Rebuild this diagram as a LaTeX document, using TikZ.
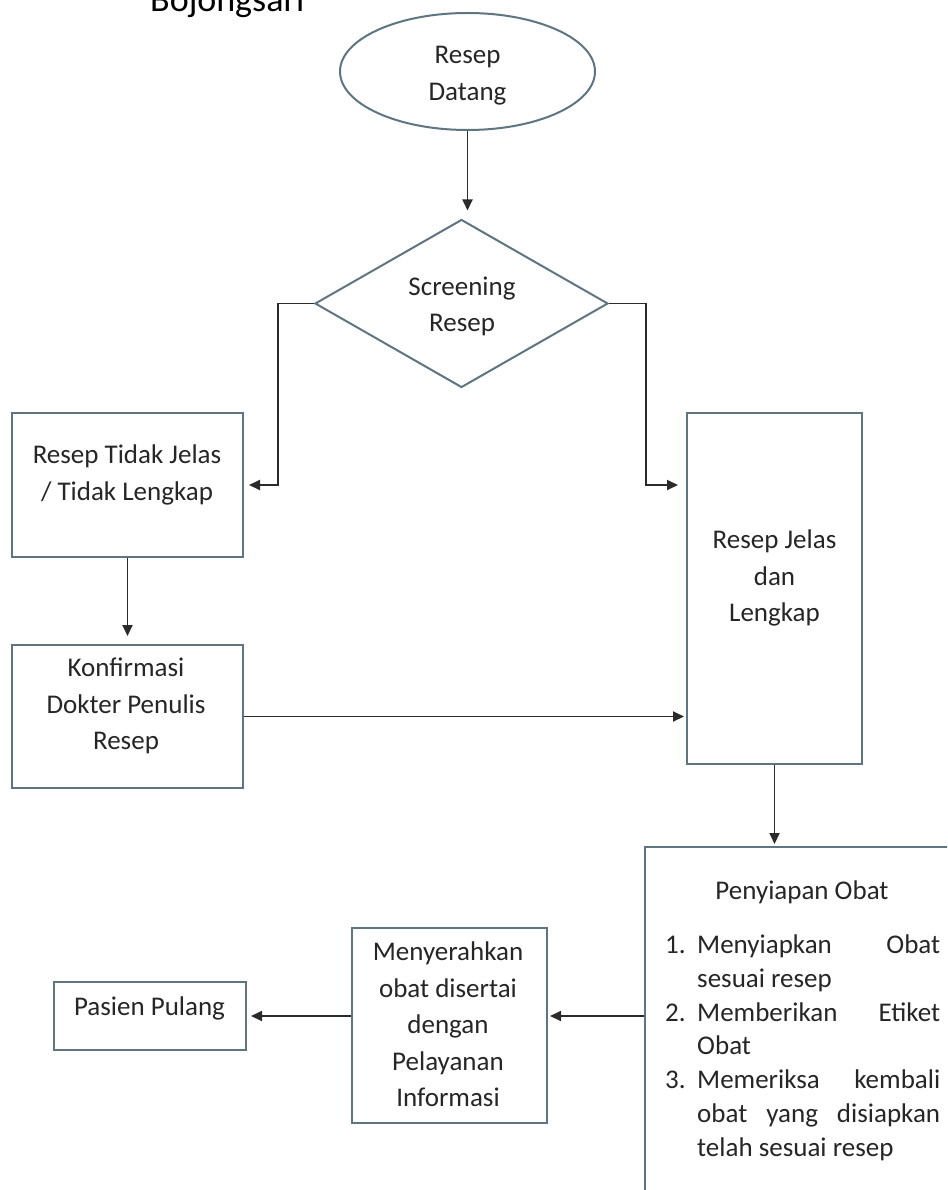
\documentclass[tikz,border=0pt]{standalone}
\usepackage{fontspec}
\setmainfont{Carlito}
\usetikzlibrary{shapes.geometric,arrows.meta}
\definecolor{boxc}{HTML}{5F7582}
\definecolor{linec}{HTML}{2B2B2B}
\definecolor{txtc}{HTML}{262626}
\newcommand\stA{\vrule height 25.55pt depth 10.95pt width 0pt}
\newcommand\stB{\vrule height 23.66pt depth 10.14pt width 0pt}
\tikzset{
  shapebox/.style={draw=boxc, line width=2pt, inner sep=0pt},
  rectbox/.style={shapebox, rectangle},
  lbl/.style={inner sep=0pt, align=center, text=txtc, font=\fontsize{27}{36.5}\selectfont},
  conn/.style={draw=linec, line width=1.8pt, -{Triangle[length=11pt,width=10pt]}},
}
\begin{document}
\begin{tikzpicture}[x=1pt,y=-1pt]
\useasboundingbox (0,0) rectangle (947,1190);
\clip (0,0) rectangle (947,1190);
\fill[white] (0,0) rectangle (947,1190);

\node[anchor=base west, inner sep=0pt, font=\fontsize{36}{43}\selectfont] (title) at (150,12) {Bojongsari};

% shapes
\node[shapebox, ellipse, minimum width=255pt, minimum height=117pt] (datang) at (467.5,71.5) {};
\node[lbl] (tdatang) at (467.5,74.5) {\stA Resep\\\stA Datang};

\node[shapebox, diamond, shape aspect=1.744, minimum width=293pt, minimum height=168pt] (scr) at (461.5,303.5) {};
\node[lbl] (tscr) at (462,306) {\stA Screening\\\stA Resep};

\node[rectbox, minimum width=231pt, minimum height=144pt] (tidak) at (127.5,485) {};
\node[lbl] (ttidak) at (127,474.5) {\stA Resep Tidak Jelas\\\stA / Tidak Lengkap};

\node[rectbox, minimum width=231pt, minimum height=143pt] (konf) at (127.5,716.5) {};
\node[lbl] (tkonf) at (126,706) {\stA Konfirmasi\\\stA Dokter Penulis\\\stA Resep};

\node[rectbox, minimum width=175pt, minimum height=351pt] (jelas) at (774.5,588.5) {};
\node[lbl] (tjelas) at (774.5,578) {\stA Resep Jelas\\\stA dan\\\stA Lengkap};

\node[rectbox, minimum width=314pt, minimum height=373pt] (siap) at (802,1033.5) {};
\node[anchor=base, inner sep=0pt, text=txtc, font=\fontsize{27}{34}\selectfont] (tsiap) at (802,899.4) {Penyiapan Obat};
\node[anchor=north west, inner sep=0pt, align=left, text=txtc, font=\fontsize{27}{33.8}\selectfont] (liste) at (665,929.6) {%
\stB\makebox[32pt][l]{1.}\makebox[243pt][s]{Menyiapkan Obat}\\
\stB\hspace*{32pt}sesuai resep\\
\stB\makebox[32pt][l]{2.}\makebox[243pt][s]{Memberikan Etiket}\\
\stB\hspace*{32pt}Obat\\
\stB\makebox[32pt][l]{3.}\makebox[243pt][s]{Memeriksa kembali}\\
\stB\hspace*{32pt}\makebox[243pt][s]{obat yang disiapkan}\\
\stB\hspace*{32pt}telah sesuai resep};

\node[rectbox, minimum width=195pt, minimum height=195pt] (serah) at (449.5,1025.5) {};
\node[lbl] (tserah) at (448,1026.5) {\stA Menyerahkan\\\stA obat disertai\\\stA dengan\\\stA Pelayanan\\\stA Informasi};

\node[rectbox, minimum width=192pt, minimum height=68pt] (pulang) at (150,1016) {};
\node[lbl] (tpulang) at (149.5,1008) {\stA Pasien Pulang};

% connectors
\draw[conn, shorten >=8pt] (datang.south) -- (datang.south |- scr.north);
\draw[conn, shorten >=5pt] (scr.west) -- ++(-36,0) |- (tidak.east);
\draw[conn, shorten >=8pt] (scr.east) -- ++(37,0) |- (jelas.west |- tidak.east);
\draw[conn, shorten >=8pt] (tidak.south) -- (konf.north);
\draw[conn, shorten >=2pt] (konf.east) -- (jelas.west |- konf.east);
\draw[conn, shorten >=2pt] (jelas.south) -- (jelas.south |- siap.north);
\draw[conn, shorten >=2pt] (siap.west |- pulang.east) -- (serah.east |- pulang.east);
\draw[conn, shorten >=4pt] (serah.west |- pulang.east) -- (pulang.east);
\end{tikzpicture}
\end{document}
